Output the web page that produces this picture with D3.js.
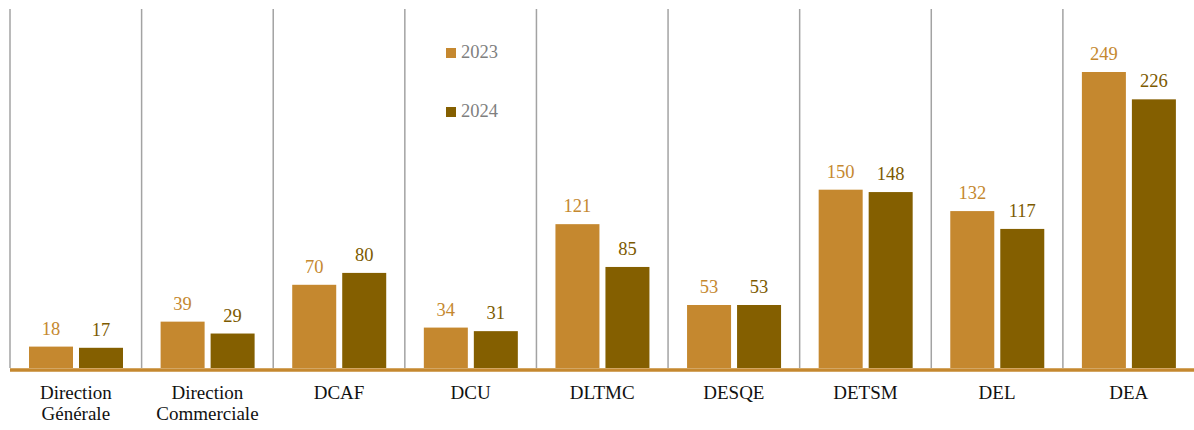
<!DOCTYPE html>
<html><head><meta charset="utf-8">
<script src="https://cdn.jsdelivr.net/npm/d3@7"></script>
<style>body{margin:0;background:#fff}svg{display:block}</style>
</head><body>
<svg id="chart" width="1194" height="430"></svg>
<script>
const categories = [["Direction","Générale"],["Direction","Commerciale"],["DCAF"],["DCU"],["DLTMC"],["DESQE"],["DETSM"],["DEL"],["DEA"]];
const seriesNames = ["2023","2024"];
const values2023 = [18,39,70,34,121,53,150,132,249];
const values2024 = [17,29,80,31,85,53,148,117,226];
const colors = ["#C5882F","#845F00"];
const labelColors = ["#C5882F","#7C5A00"];

const svg = d3.select("#chart");
const font = "'Liberation Serif', 'DejaVu Serif', serif";
const catKeys = categories.map(c => c.join(" "));
const x = d3.scaleBand().domain(catKeys).range([10, 1194.5]).paddingInner(0).paddingOuter(0);
const xs = d3.scaleBand().domain(seriesNames).range([19, 113]).paddingInner(0.12).paddingOuter(0);
const y = d3.scaleLinear().domain([0, 302]).range([368, 9]);

// vertical separators
svg.append("g").selectAll("line").data(catKeys).join("line")
  .attr("x1", d => x(d)).attr("x2", d => x(d))
  .attr("y1", y(302)).attr("y2", y(0))
  .attr("stroke", "#a3a3a3").attr("stroke-width", 1.5);

const series = [values2023, values2024];
series.forEach((vals, si) => {
  const g = svg.append("g");
  g.selectAll("rect").data(vals).join("rect")
    .attr("x", (d, i) => x(catKeys[i]) + xs(seriesNames[si]))
    .attr("width", xs.bandwidth())
    .attr("y", d => y(d))
    .attr("height", d => y(0) - y(d))
    .attr("fill", colors[si]);
  g.selectAll("text").data(vals).join("text")
    .attr("x", (d, i) => x(catKeys[i]) + xs(seriesNames[si]) + xs.bandwidth() / 2)
    .attr("y", d => y(d) - 12)
    .attr("text-anchor", "middle")
    .attr("font-family", font).attr("font-size", 18.5)
    .attr("fill", labelColors[si])
    .text(d => d);
});

// baseline
svg.append("line").attr("x1", 10).attr("x2", 1194).attr("y1", y(0) + 2).attr("y2", y(0) + 2)
  .attr("stroke", "#C5882F").attr("stroke-width", 3.5);

// category labels
const cl = svg.append("g").selectAll("text").data(categories).join("text")
  .attr("text-anchor", "middle")
  .attr("font-family", font).attr("font-size", 19)
  .attr("fill", "#111");
cl.each(function(d, i) {
  const t = d3.select(this);
  d.forEach((line, li) => {
    t.append("tspan").attr("x", x(catKeys[i]) + x.bandwidth() / 2)
      .attr("y", 399 + li * 20.5).text(line);
  });
});

// legend
const leg = svg.append("g").selectAll("g").data(seriesNames).join("g")
  .attr("transform", (d, i) => `translate(446, ${48 + i * 59})`);
leg.append("rect").attr("width", 10).attr("height", 10).attr("fill", (d, i) => colors[i]);
leg.append("text").attr("x", 15).attr("y", 10)
  .attr("font-family", font).attr("font-size", 18.5).attr("fill", "#7f7f7f")
  .text(d => d);
</script>
</body></html>
